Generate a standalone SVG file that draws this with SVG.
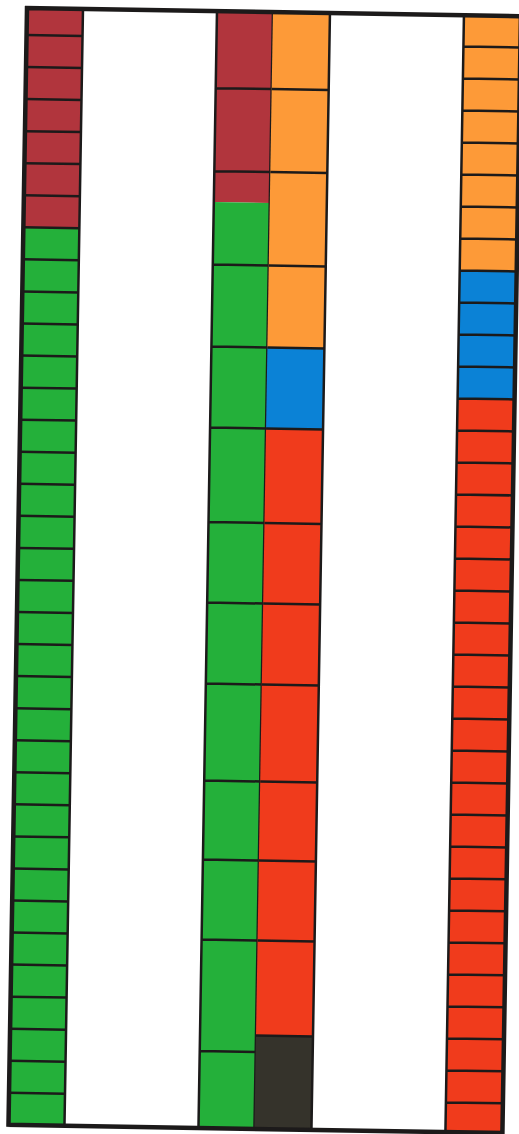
<svg xmlns="http://www.w3.org/2000/svg" width="519" height="1134" viewBox="0 0 519 1134">
  <style>
    .dred{fill:#b1353d}
    .green{fill:#24b03a}
    .orange{fill:#fd9a38}
    .blue{fill:#0b82d6}
    .red{fill:#f03b1c}
    .dark{fill:#35332b}
    .grid{fill:none;stroke:#1c1a1a;stroke-width:2.5}
    .frame{fill:none;stroke:#1c1a1a;stroke-width:4.5}
  </style>
  <rect x="0" y="0" width="519" height="1134" fill="#ffffff"/>
  <g transform="translate(27 8) rotate(0.95)">
    <g id="column-1">
      <rect class="dred" x="0" y="0" width="56" height="219.4"/>
      <rect class="green" x="0" y="219.4" width="56" height="897.6"/>
      <path class="grid" d="M56 0V1117 M0 27H56 M0 59.1H56 M0 91.1H56 M0 123.2H56 M0 155.2H56 M0 187.3H56 M0 219.4H56 M0 251.4H56 M0 283.5H56 M0 315.5H56 M0 347.6H56 M0 379.7H56 M0 411.7H56 M0 443.8H56 M0 475.8H56 M0 507.9H56 M0 540H56 M0 572H56 M0 604.1H56 M0 636.1H56 M0 668.2H56 M0 700.3H56 M0 732.3H56 M0 764.4H56 M0 796.4H56 M0 828.5H56 M0 860.6H56 M0 892.6H56 M0 924.7H56 M0 956.7H56 M0 988.8H56 M0 1020.9H56 M0 1052.9H56 M0 1085H56"/>
    </g>
    <g id="column-2">
      <rect class="dred" x="190" y="0" width="56" height="191"/>
      <rect class="green" x="190" y="191" width="56" height="926"/>
      <path class="grid" d="M190 0V1117 M246 0V1117 M190 77H246 M190 160H246 M190 253.5H246 M190 335.5H246 M190 416.5H246 M190 511H246 M190 591.5H246 M190 672.5H246 M190 769.5H246 M190 848.5H246 M190 928.5H246 M190 1040H246"/>
    </g>
    <g id="column-3">
      <rect class="orange" x="246" y="0" width="57" height="335.5"/>
      <rect class="blue" x="246" y="335.5" width="57" height="81"/>
      <rect class="red" x="246" y="416.5" width="57" height="607"/>
      <rect class="dark" x="246" y="1023.5" width="57" height="93.5"/>
      <path class="grid" d="M303 0V1117 M246 77H303 M246 160H303 M246 253.5H303 M246 335.5H303 M246 416.5H303 M246 511H303 M246 591.5H303 M246 672.5H303 M246 769.5H303 M246 848.5H303 M246 928.5H303 M246 1023.5H303"/>
    </g>
    <g id="column-4">
      <rect class="orange" x="437" y="0" width="57" height="255.3"/>
      <rect class="blue" x="437" y="255.3" width="57" height="128"/>
      <rect class="red" x="437" y="383.3" width="57" height="733.7"/>
      <path class="grid" d="M437 0V1117 M437 31.3H494 M437 63.3H494 M437 95.3H494 M437 127.3H494 M437 159.3H494 M437 191.3H494 M437 223.3H494 M437 255.3H494 M437 287.3H494 M437 319.3H494 M437 351.3H494 M437 383.3H494 M437 415.3H494 M437 447.3H494 M437 479.3H494 M437 511.3H494 M437 543.3H494 M437 575.3H494 M437 607.3H494 M437 639.3H494 M437 671.3H494 M437 703.3H494 M437 735.3H494 M437 767.3H494 M437 799.3H494 M437 831.3H494 M437 863.3H494 M437 895.3H494 M437 927.3H494 M437 959.3H494 M437 991.3H494 M437 1023.3H494 M437 1055.3H494 M437 1087.3H494"/>
    </g>
    <g id="frame">
      <path class="frame" d="M-2 0H520 M0 -2V1119 M-2 1117H496 M494 0V1119"/>
    </g>
  </g>
</svg>
